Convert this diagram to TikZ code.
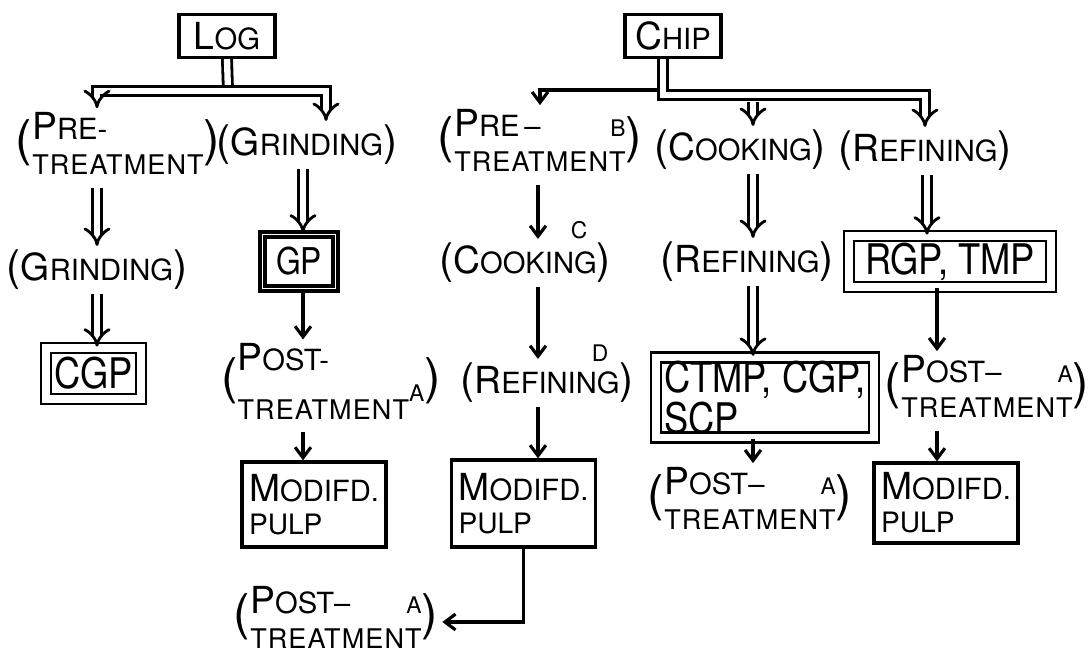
\documentclass[tikz,border=0pt]{standalone}
\usepackage{fontspec}
\setmainfont{TeX Gyre Heros}
\newfontfamily\trtfont{TeX Gyre Heros}[LetterSpace=4]
\newfontfamily\boxfont{TeX Gyre Heros}[FakeStretch=0.86]
\usetikzlibrary{arrows.meta,positioning,calc}

\newcommand\initcap[2]{{\fontsize{10.6}{12}\selectfont #1}{\fontsize{8.3}{9.5}\selectfont #2}}
\newcommand\trt{{\trtfont\fontsize{7.7}{8.5}\selectfont TREATMENT}}
\newcommand\fnm[1]{{\fontsize{6.5}{7}\selectfont #1}}
\newcommand\openp[1][14]{{\fontsize{#1}{#1}\selectfont(}}
\newcommand\closep[1][14]{{\fontsize{#1}{#1}\selectfont)}}
\newcommand\twolbl[2]{\openp\begin{tabular}{@{}l@{}}#1\\[1.5pt]#2\end{tabular}\closep}

\begin{document}
\begin{tikzpicture}[
  x=1cm,y=1cm,
  lbl/.style={inner sep=1pt, font=\fontsize{7.7}{8.5}\selectfont},
  fnmark/.style={inner sep=0pt, font=\fontsize{6.5}{7}\selectfont},
  srcbox/.style={draw, line width=0.9pt, minimum width=0.96cm, minimum height=0.43cm, inner sep=1pt},
  pulpbox/.style={draw, line width=0.9pt, align=left, inner sep=2pt, font=\fontsize{8}{9.4}\selectfont},
  dblbox/.style={draw, double, double distance=2pt, line width=0.8pt, inner sep=1pt, font=\boxfont\fontsize{12}{10.5}\selectfont},
  thickbox/.style={draw, double, double distance=0.5pt, line width=1.1pt, inner sep=1pt, font=\boxfont\fontsize{10.5}{11}\selectfont},
  arr/.style={-{Straight Barb[length=3pt,width=4.5pt]}, line width=0.9pt},
  dbl/.style={double, double distance=1.8pt, line width=0.8pt},
  dblarr/.style={dbl, -{Implies}}
]
  \useasboundingbox (0,0) rectangle (10.88,6.53);

  % log side
  \node[srcbox] (log) at (2.27,6.17) {\initcap{L}{OG}};
  \node[lbl] (pre1) at (1.18,5.05) {\twolbl{\initcap{P}{RE-}}{\trt}};
  \node[lbl] (grind1) at (3.07,5.08) {\openp[12]\initcap{G}{RINDING}\closep[12]};
  \node[lbl] (grind2) at (0.97,3.83) {\openp[12]\initcap{G}{RINDING}\closep[12]};
  \node[dblbox, minimum width=0.95cm, minimum height=0.51cm] (cgp) at (0.935,2.795) {CGP};
  \node[thickbox, minimum width=0.73cm, minimum height=0.54cm] (gp) at (2.99,3.915) {GP};
  \node[lbl] (post1) at (3.31,2.67) {\twolbl{\initcap{P}{OST-}}{\trt\raisebox{5pt}{\fnm{A}}}};
  \node[pulpbox, minimum width=1.38cm, minimum height=0.85cm] (mod1) at (3.14,1.485) {\initcap{M}{ODIFD.}\\PULP};

  % chip side
  \node[srcbox] (chip) at (6.73,6.17) {\initcap{C}{HIP}};
  \node[lbl] (pre2) at (5.40,5.08) {\twolbl{\initcap{P}{RE\,--}\hfill\fnm{B}}{\trt}};
  \node[lbl] (cook2) at (5.25,3.90) {\openp[12]\initcap{C}{OOKING}\closep[12]};
  \node[fnmark] (markC) at (5.79,4.23) {C};
  \node[lbl] (ref2) at (5.47,2.70) {\openp[12]\initcap{R}{EFINING}\closep[12]};
  \node[fnmark] (markD) at (6.00,3.00) {D};
  \node[pulpbox, minimum width=1.43cm, minimum height=0.87cm] (mod2) at (5.235,1.495) {\initcap{M}{ODIFD.}\\PULP};
  \node[lbl] (post2) at (3.36,0.31) {\twolbl{\initcap{P}{OST--}\hfill\fnm{A}}{\trt}};

  \node[lbl] (cook1) at (7.40,5.03) {\openp[12]\initcap{C}{OOKING}\closep[12]};
  \node[lbl] (ref1) at (7.47,3.91) {\openp[12]\initcap{R}{EFINING}\closep[12]};
  \node[dblbox, minimum width=2.18cm, minimum height=0.77cm, align=left] (ctmp) at (7.65,2.555) {CTMP, CGP,\\SCP};
  \node[lbl] (post3) at (7.50,1.50) {\twolbl{\initcap{P}{OST--}\hfill\fnm{A}}{\trt}};

  \node[lbl] (ref3) at (9.25,5.02) {\openp[12]\initcap{R}{EFINING}\closep[12]};
  \node[dblbox, minimum width=2.02cm, minimum height=0.51cm] (rgp) at (9.50,3.915) {RGP, TMP};
  \node[lbl] (post4) at (9.87,2.62) {\twolbl{\initcap{P}{OST--}\hfill\fnm{A}}{\trt}};
  \node[pulpbox, minimum width=1.34cm, minimum height=0.80cm] (mod3) at (9.46,1.50) {\initcap{M}{ODIFD.}\\PULP};

  % columns of the arrows
  \coordinate (xA) at (0.97,0);
  \coordinate (xG) at (3.26,0);
  \coordinate (xB) at (3.03,0);
  \coordinate (xC) at (5.38,0);
  \coordinate (xD) at (7.53,0);
  \coordinate (xE) at (9.27,0);
  \coordinate (xF) at (9.37,0);
  \coordinate (logfork) at (2.28,5.62);
  \coordinate (chipfork) at (6.63,5.58);

  \draw[dbl] (log.south) -- (logfork);
  \draw[dbl, {Implies}-{Implies}] (xA |- pre1.north) |- (logfork) -| (xG |- grind1.north);
  \draw[dblarr] (xA |- pre1.south) -- (xA |- grind2.north);
  \draw[dblarr] (xA |- grind2.south) -- (xA |- cgp.north);
  \draw[dblarr] (xB |- grind1.south) -- (xB |- gp.north);
  \draw[arr] (xB |- gp.south) -- (xB |- post1.north);
  \draw[arr] (xB |- post1.south) -- (xB |- mod1.north);

  \draw[arr] ($(chipfork)+(-0.05,0.05)$) -| (pre2.north);
  \draw[dblarr] (chip.south -| chipfork) |- (chipfork -| ref3.north) -- (ref3.north);
  \draw[dblarr] ($(chipfork -| xD)+(0,-0.07)$) -- (xD |- cook1.north);
  \draw[dblarr] (xD |- cook1.south) -- (xD |- ref1.north);
  \draw[dblarr] (xD |- ref1.south) -- (xD |- ctmp.north);
  \draw[arr] (xD |- ctmp.south) -- (xD |- post3.north);

  \draw[arr] (xC |- pre2.south) -- (xC |- cook2.north);
  \draw[arr] (xC |- cook2.south) -- (xC |- ref2.north);
  \draw[arr] (xC |- ref2.south) -- (xC |- mod2.north);
  \draw[arr] (mod2.south) |- (post2.east);

  \draw[dblarr] (xE |- ref3.south) -- (xE |- rgp.north);
  \draw[arr] (xF |- rgp.south) -- (xF |- post4.north);
  \draw[arr] (xF |- post4.south) -- (xF |- mod3.north);
\end{tikzpicture}
\end{document}
